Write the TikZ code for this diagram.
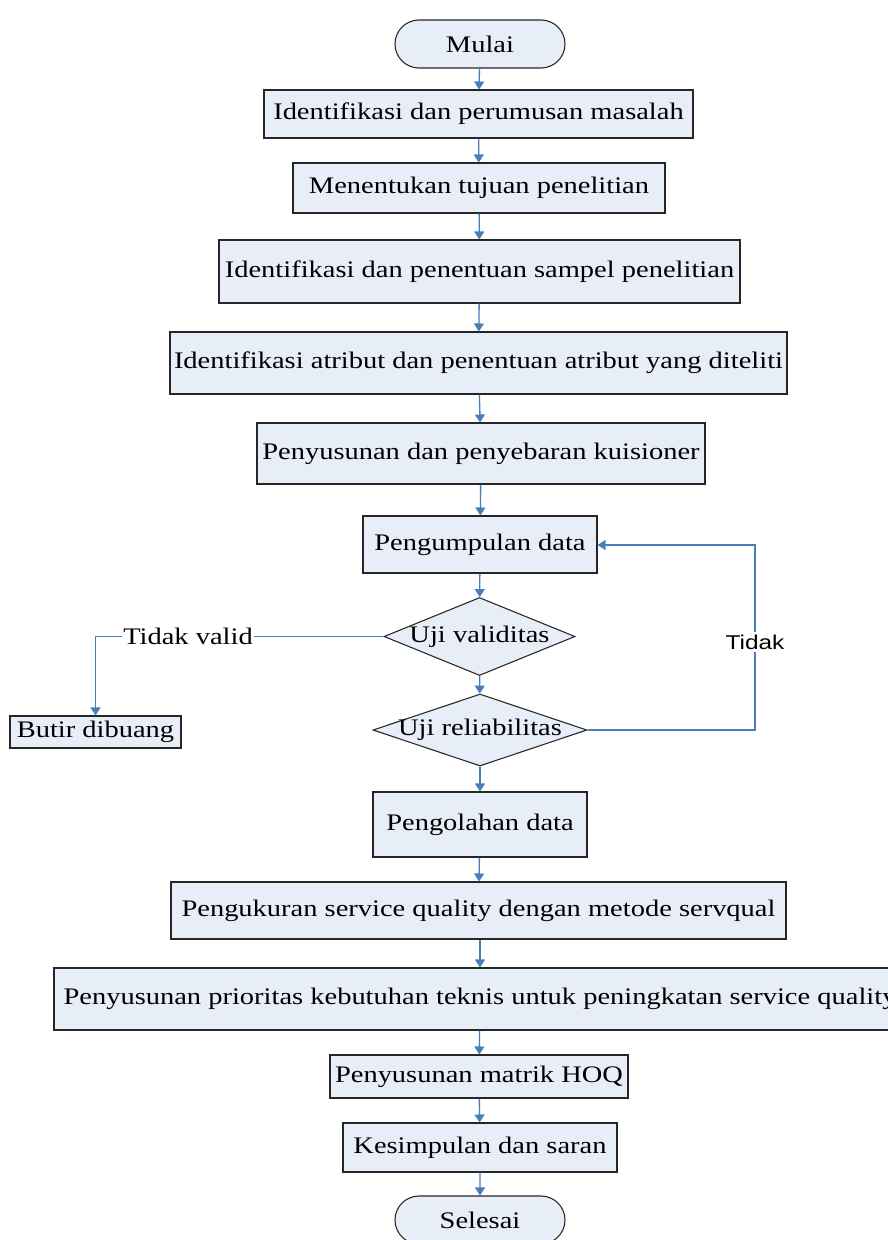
\documentclass[tikz,border=0pt]{standalone}
\usepackage{fontspec}
\setmainfont{Liberation Serif}[FakeStretch=1.2]
\newfontfamily\tidakfont{Liberation Sans}[FakeStretch=1.22]
\usetikzlibrary{shapes.geometric,shapes.misc,arrows.meta}
\definecolor{boxfill}{HTML}{E8EEF7}
\definecolor{linkblue}{HTML}{4A7EBB}
\definecolor{boxdraw}{HTML}{262626}
\begin{document}
\begin{tikzpicture}[x=0.75pt,y=-0.75pt,
  base/.style={draw=boxdraw, fill=boxfill, line width=0.8pt, inner sep=0pt,
    font=\fontsize{17.8}{21}\selectfont},
  proc/.style={base, rectangle},
  term/.style={base, rounded rectangle},
  dec/.style={base, diamond},
  flow/.style={draw=linkblue, line width=1pt, -{Triangle[width=7.5pt,length=6pt]}},
  lab/.style={fill=white, inner sep=1pt, font=\fontsize{17.8}{21}\selectfont}]
\useasboundingbox (0,0) rectangle (888,1240);
\clip (0,0) rectangle (888,1240);
\fill[white] (0,0) rectangle (888,1240);

\node[term, minimum width=170*0.75pt, minimum height=48*0.75pt] (mulai) at (480,44) {Mulai};
\node[proc, minimum width=429*0.75pt, minimum height=48*0.75pt] (n1) at (478.5,114) {Identifikasi dan perumusan masalah};
\node[proc, minimum width=372*0.75pt, minimum height=50*0.75pt] (n2) at (479,188) {Menentukan tujuan penelitian};
\node[proc, minimum width=521*0.75pt, minimum height=63*0.75pt] (n3) at (479.5,271.5) {Identifikasi dan penentuan sampel penelitian};
\node[proc, minimum width=617*0.75pt, minimum height=62*0.75pt] (n4) at (478.5,363) {Identifikasi atribut dan penentuan atribut yang diteliti};
\node[proc, minimum width=448*0.75pt, minimum height=61*0.75pt] (n5) at (481,453.5) {Penyusunan dan penyebaran kuisioner};
\node[proc, minimum width=234*0.75pt, minimum height=57*0.75pt] (n6) at (480,544.5) {Pengumpulan data};
\node[dec, minimum width=191*0.75pt, minimum height=78*0.75pt] (d1) at (479.5,636.5) {\makebox[0pt]{Uji validitas}};
\node[dec, minimum width=214*0.75pt, minimum height=72*0.75pt] (d2) at (480,730) {\makebox[0pt]{Uji reliabilitas}};
\node[proc, minimum width=171*0.75pt, minimum height=32*0.75pt] (butir) at (95.5,732) {Butir dibuang};
\node[proc, minimum width=214*0.75pt, minimum height=65*0.75pt] (n7) at (480,824.5) {Pengolahan data};
\node[proc, minimum width=615*0.75pt, minimum height=57*0.75pt] (n8) at (478.5,910.5) {Pengukuran service quality dengan metode servqual};
\node[proc, minimum width=852*0.75pt, minimum height=62*0.75pt] (n9) at (480,999) {Penyusunan prioritas kebutuhan teknis untuk peningkatan service quality};
\node[proc, minimum width=298*0.75pt, minimum height=43*0.75pt] (n10) at (479,1076.5) {Penyusunan matrik HOQ};
\node[proc, minimum width=274*0.75pt, minimum height=49*0.75pt] (n11) at (480,1147.5) {Kesimpulan dan saran};
\node[term, minimum width=170*0.75pt, minimum height=48*0.75pt] (selesai) at (480,1220) {Selesai};

\draw[flow] (mulai) -- (n1);
\draw[flow] (n1) -- (n2);
\draw[flow] (n2) -- (n3);
\draw[flow] (n3) -- (n4);
\draw[flow] (n4) -- (n5);
\draw[flow] (n5) -- (n6);
\draw[flow] (n6) -- (d1);
\draw[flow] (d1) -- (d2);
\draw[flow] (d2) -- (n7);
\draw[flow] (n7) -- (n8);
\draw[flow] (n8.south -| n9.north) -- (n9.north);
\draw[flow] (n9) -- (n10);
\draw[flow] (n10) -- (n11);
\draw[flow] (n11) -- (selesai);

\coordinate (tvcorner) at (d1.west -| butir.north);
\draw[flow] (d1.west) -- (tvcorner) -- (butir.north);
\node[lab] (tidakvalid) at (188,636.5) {Tidak valid};

\coordinate (tr) at (755,730);
\coordinate (tt) at (755,545);
\draw[flow] (d2.east) -- (tr) -- (tt) -- (n6.east |- tt);
\node[fill=white, inner sep=2pt, font=\tidakfont\fontsize{15}{18}\selectfont] (tidak) at (755,642) {Tidak};
\end{tikzpicture}
\end{document}
